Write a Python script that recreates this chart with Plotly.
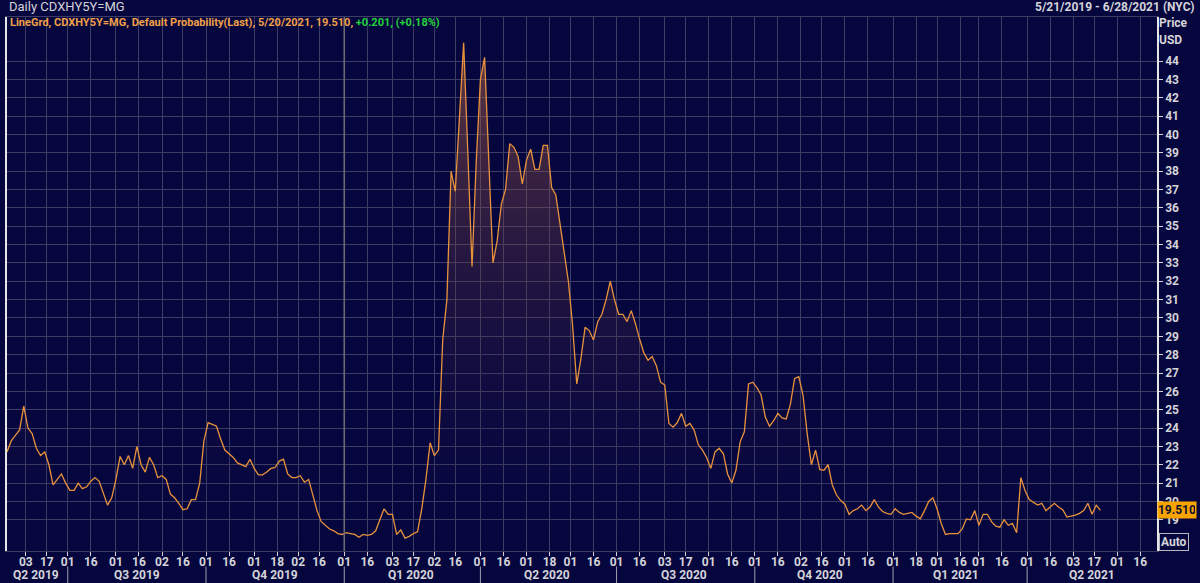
import pandas as pd
import plotly.graph_objects as go

# default probability, sampled every 2nd business day from 21 May 2019 to 20 May 2021
values = [
    22.7, 23.3, 23.6, 23.9, 25.2, 24.0, 23.7, 22.9, 22.5, 22.7,
    22.0, 20.9, 21.2, 21.5, 21.0, 20.6, 20.6, 21.0, 20.7, 20.8,
    21.1, 21.3, 21.1, 20.5, 19.8, 20.2, 21.2, 22.45, 22.0, 22.5,
    21.8, 23.0, 22.0, 21.6, 22.4, 22.0, 21.3, 21.4, 21.2, 20.4,
    20.2, 19.9, 19.55, 19.6, 20.1, 20.1, 21.0, 23.3, 24.3, 24.2,
    24.1, 23.4, 22.8, 22.6, 22.4, 22.1, 22.0, 21.9, 22.3, 21.8,
    21.45, 21.45, 21.6, 21.8, 21.85, 22.2, 22.3, 21.5, 21.3, 21.3,
    21.4, 21.05, 21.2, 20.4, 19.5, 18.9, 18.7, 18.5, 18.4, 18.25,
    18.2, 18.3, 18.25, 18.2, 18.05, 18.2, 18.15, 18.2, 18.4, 19.0,
    19.6, 19.3, 19.3, 18.2, 18.45, 18.0, 18.1, 18.25, 18.35, 19.6,
    21.2, 23.2, 22.5, 22.8, 28.8, 31.0, 38.0, 36.9, 41.0, 45.0,
    39.0, 32.8, 38.5, 43.0, 44.2, 39.0, 33.0, 34.2, 36.2, 37.0,
    39.5, 39.3, 38.8, 37.3, 38.6, 39.2, 38.1, 38.1, 39.4, 39.4,
    37.1, 36.7, 35.2, 33.7, 32.0, 29.6, 26.4, 27.8, 29.5, 29.3,
    28.8, 29.8, 30.2, 31.0, 32.0, 31.0, 30.2, 30.2, 29.8, 30.4,
    29.7, 28.85, 28.1, 27.7, 27.9, 27.4, 26.5, 26.35, 24.25, 24.05,
    24.3, 24.8, 24.1, 24.25, 23.9, 23.1, 22.8, 22.4, 21.8, 22.7,
    22.9, 22.6, 21.5, 21.0, 21.7, 23.25, 23.8, 26.4, 26.5, 26.2,
    25.8, 24.6, 24.1, 24.4, 24.8, 24.55, 24.5, 25.3, 26.7, 26.8,
    25.8, 23.7, 22.0, 22.8, 21.75, 21.7, 22.0, 20.9, 20.35, 20.05,
    19.85, 19.3, 19.5, 19.6, 19.8, 19.5, 19.7, 20.1, 19.7, 19.45,
    19.35, 19.3, 19.6, 19.4, 19.3, 19.35, 19.4, 19.2, 19.05, 19.5,
    20.0, 20.2, 19.6, 18.8, 18.2, 18.25, 18.25, 18.25, 18.5, 19.05,
    19.0, 19.5, 18.7, 19.3, 19.3, 18.9, 18.65, 18.6, 19.0, 18.7,
    18.8, 18.3, 21.3, 20.6, 20.1, 19.95, 19.8, 19.9, 19.5, 19.7,
    19.9, 19.7, 19.55, 19.15, 19.2, 19.25, 19.35, 19.5, 19.9, 19.3,
    19.8, 19.51,
]
dates = pd.bdate_range("2019-05-21", periods=len(values), freq="2B")

tick_dates = [
    "2019-06-03", "2019-06-17", "2019-07-01", "2019-07-16", "2019-08-01", "2019-08-16",
    "2019-09-02", "2019-09-16", "2019-10-01", "2019-10-16", "2019-11-01", "2019-11-18",
    "2019-12-02", "2019-12-16", "2020-01-01", "2020-01-16", "2020-02-03", "2020-02-17",
    "2020-03-02", "2020-03-16", "2020-04-01", "2020-04-16", "2020-05-01", "2020-05-18",
    "2020-06-01", "2020-06-16", "2020-07-01", "2020-07-16", "2020-08-03", "2020-08-17",
    "2020-09-01", "2020-09-16", "2020-10-01", "2020-10-16", "2020-11-02", "2020-11-16",
    "2020-12-01", "2020-12-16", "2021-01-01", "2021-01-18", "2021-02-01", "2021-02-16",
    "2021-03-01", "2021-03-16", "2021-04-01", "2021-04-16", "2021-05-03", "2021-05-17",
    "2021-06-01", "2021-06-16",
]
quarter_labels = ["Q2 2019", "Q3 2019", "Q4 2019", "Q1 2020", "Q2 2020",
                  "Q3 2020", "Q4 2020", "Q1 2021", "Q2 2021"]
quarter_mid = ["2019-06-10", "2019-08-15", "2019-11-15", "2020-02-14", "2020-05-15",
               "2020-08-14", "2020-11-13", "2021-02-12", "2021-05-14"]
quarter_starts = ["2019-07-01", "2019-10-01", "2020-01-01", "2020-04-01",
                  "2020-07-01", "2020-10-01", "2021-01-01", "2021-04-01"]

bg = "#06063f"
grid = "#3c3c64"
txt = "#d4d4d8"
font = "Roboto, sans-serif"

fig = go.Figure()
fig.add_trace(go.Scatter(
    x=dates, y=values, mode="lines",
    line=dict(color="#e8923c", width=1.3),
    fill="tozeroy",
    fillgradient=dict(type="vertical", start=17.3, stop=45.5,
                      colorscale=[[0, "rgba(6,6,63,0)"], [1, "rgba(205,115,70,0.48)"]]),
    hoverinfo="x+y",
))

fig.update_layout(
    width=1200, height=583,
    paper_bgcolor=bg, plot_bgcolor=bg,
    margin=dict(l=5, r=43, t=17, b=32),
    showlegend=False,
    font=dict(family=font, color=txt, size=12, weight="bold"),
)
fig.update_xaxes(
    type="date",
    range=["2019-05-21", "2021-06-28"],
    rangebreaks=[dict(bounds=["sat", "mon"])],
    tickvals=tick_dates, tickformat="%d",
    ticks="outside", ticklen=4, tickcolor=txt, ticklabelstandoff=-4,
    showgrid=True, gridcolor=grid, gridwidth=1,
    showline=True, linecolor=grid, mirror=True,
    tickfont=dict(size=12, color=txt),
    zeroline=False,
)
fig.update_yaxes(
    side="right", range=[17.3, 46.4],
    tickvals=list(range(19, 45)),
    ticks="outside", ticklen=4, tickcolor=txt,
    showgrid=True, gridcolor=grid, gridwidth=1,
    showline=True, linecolor="#e6e6e6", linewidth=1.5, mirror=True,
    tickfont=dict(size=12, color=txt),
    zeroline=False,
)

# year boundary line
fig.add_shape(type="line", xref="x", yref="paper", x0="2020-01-01", x1="2020-01-01",
              y0=0, y1=1, line=dict(color="#6a6a72", width=1.6))

# quarter row
for d in quarter_starts:
    fig.add_shape(type="line", xref="x", yref="paper", x0=d, x1=d,
                  y0=-0.029, y1=-0.062, line=dict(color="#a0a0b0", width=1))
for lab, d in zip(quarter_labels, quarter_mid):
    fig.add_annotation(x=d, xref="x", y=-0.045, yref="paper", text=lab, showarrow=False,
                       font=dict(size=12, color=txt), yanchor="middle")

fig.add_annotation(x=0, xref="paper", y=1.019, yref="paper", text="Daily CDXHY5Y=MG",
                   showarrow=False, xanchor="left", yanchor="middle",
                   font=dict(size=13, color=txt, weight="normal"))
fig.add_annotation(x=1.0347, xref="paper", y=1.019, yref="paper",
                   text="5/21/2019 - 6/28/2021 (NYC)", showarrow=False,
                   xanchor="right", yanchor="middle", font=dict(size=12, color=txt))
fig.add_annotation(x=0.001, xref="paper", y=0.989, yref="paper",
                   text="LineGrd, CDXHY5Y=MG, Default Probability(Last), 5/20/2021, 19.510, "
                        "<span style='color:#22d43a'>+0.201, (+0.18%)</span>",
                   showarrow=False, xanchor="left", yanchor="middle",
                   font=dict(size=11, color="#f0a048"))
fig.add_annotation(x=1.0, xref="paper", y=0.989, yref="paper", text="Price",
                   showarrow=False, xanchor="left", yanchor="middle", font=dict(size=12, color=txt))
fig.add_annotation(x=1.0, xref="paper", y=0.957, yref="paper", text="USD",
                   showarrow=False, xanchor="left", yanchor="middle", font=dict(size=12, color=txt))
fig.add_annotation(x=1.0, xref="paper", y=19.51, yref="y", text="19.510",
                   showarrow=False, xanchor="left", yanchor="middle", width=36,
                   bgcolor="#f7a400", font=dict(size=12, color="#101030"))
fig.add_annotation(x=1.002, xref="paper", y=0.016, yref="paper", text="Auto",
                   showarrow=False, xanchor="left", yanchor="middle",
                   bordercolor="#b8b8c0", borderwidth=1, borderpad=1,
                   font=dict(size=12, color=txt))

fig.write_html("out.html", config={"displayModeBar": False},
               post_script="document.body.style.margin='0';")
